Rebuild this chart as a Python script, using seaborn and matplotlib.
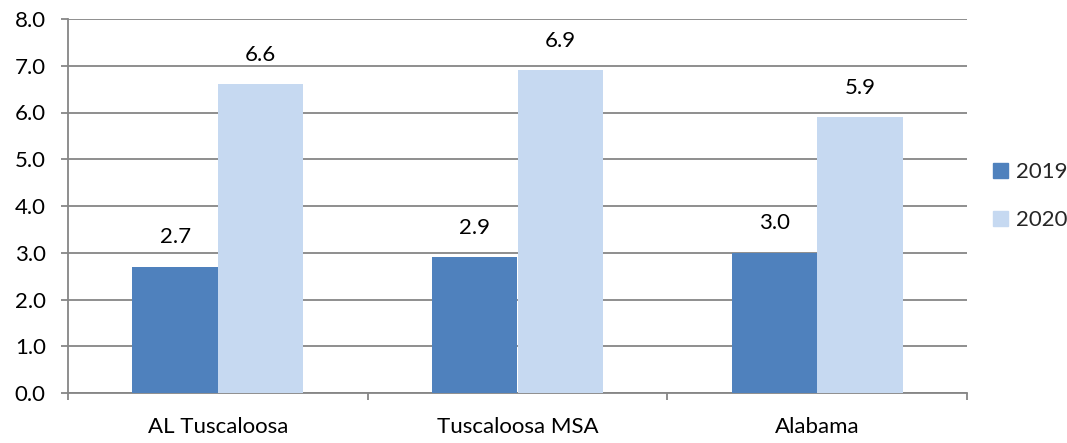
import matplotlib
matplotlib.use("Agg")
import matplotlib.pyplot as plt
import seaborn as sns
import pandas as pd

# Chart data
areas = ["AL Tuscaloosa", "Tuscaloosa MSA", "Alabama"]
years = ["2019", "2020"]
values_2019 = [2.7, 2.9, 3.0]
values_2020 = [6.6, 6.9, 5.9]
y_ticks = [0.0, 1.0, 2.0, 3.0, 4.0, 5.0, 6.0, 7.0, 8.0]

df = pd.DataFrame({
    "area": areas * 2,
    "year": [years[0]] * 3 + [years[1]] * 3,
    "value": values_2019 + values_2020,
})

sns.set_theme(style="white")
plt.rcParams["font.family"] = ["Lato", "DejaVu Sans"]

grid_color = "#868686"
palette = {"2019": "#4F81BD", "2020": "#C6D9F1"}

fig = plt.figure(figsize=(10.67, 4.43), dpi=100)
ax = fig.add_axes([68 / 1067, 50 / 443, 899 / 1067, 374 / 443])

sns.barplot(data=df, x="area", y="value", hue="year", order=areas,
            hue_order=years, palette=palette, width=0.57, gap=0,
            saturation=1, linewidth=0, ax=ax, legend=False, zorder=3)

ax.set_xlim(-0.5, 2.5)
ax.set_ylim(0, 8)
ax.set_yticks(y_ticks)
ax.set_yticklabels([f"{t:.1f}" for t in y_ticks])
ax.set_xlabel("")
ax.set_ylabel("")

# Horizontal gridlines
ax.yaxis.grid(True, color=grid_color, linewidth=1.3, zorder=0)
ax.set_axisbelow(True)

for side in ("top", "right"):
    ax.spines[side].set_visible(False)
for side in ("left", "bottom"):
    ax.spines[side].set_color(grid_color)
    ax.spines[side].set_linewidth(1.3)

ax.tick_params(axis="y", which="major", length=5, width=1.3, color=grid_color,
               pad=11, labelsize=16, labelcolor="black", left=True)
ax.tick_params(axis="x", which="major", length=0, pad=17, labelsize=16,
               labelcolor="black")
ax.set_xticks([-0.5, 0.5, 1.5, 2.5], minor=True)
ax.tick_params(axis="x", which="minor", length=5, width=1.3, color=grid_color,
               bottom=True)

# Value labels above bars
for container in ax.containers:
    ax.bar_label(container, labels=[f"{v:.1f}" for v in container.datavalues],
                 padding=14, fontsize=16, color="black")

# Legend to the right of the plot
handles = [plt.Rectangle((0, 0), 1, 1, color=palette[y]) for y in years]
fig.legend(handles, years, loc="center left",
           bbox_to_anchor=(982 / 1067, 1 - 196 / 443), frameon=False,
           fontsize=16, handlelength=0.65, handleheight=0.65,
           handletextpad=0.4, labelspacing=1.25, borderpad=0)

fig.savefig("out.png", dpi=100)
